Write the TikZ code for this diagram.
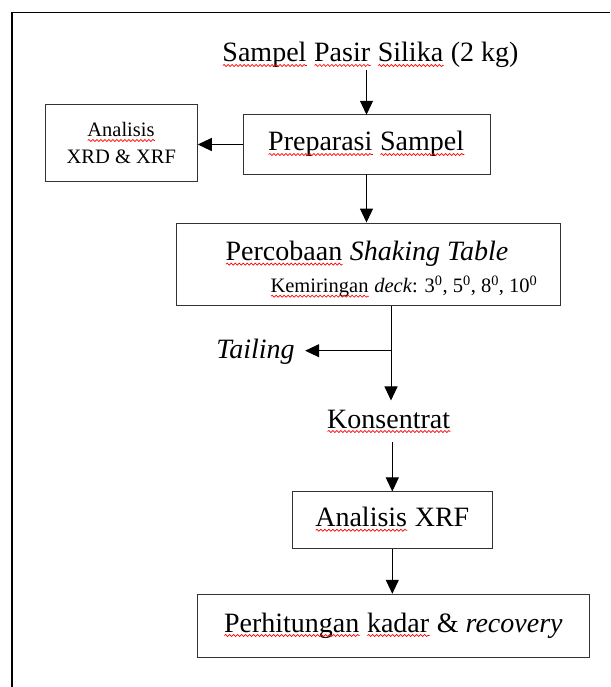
\documentclass[tikz,border=0pt]{standalone}
\usepackage{fontspec}
\setmainfont{Liberation Serif}
\usetikzlibrary{arrows.meta, decorations.pathmorphing}

\newlength{\markwd}
\newcommand{\spellmark}[1]{\settowidth{\markwd}{#1}\rlap{#1}\tikz[baseline=0pt]\draw[red, line width=0.7pt, decorate, decoration={snake, amplitude=1pt, segment length=4pt}] (0pt,-3.5pt) -- (\markwd,-3.5pt);}
\newcommand{\bigtext}{\fontsize{28pt}{32pt}\selectfont}
\newcommand{\smalltext}{\fontsize{20.5pt}{26.7pt}\selectfont}

\begin{document}
\begin{tikzpicture}[x=1pt, y=1pt, line width=1pt,
    >={Triangle[length=14pt, width=13pt]},
    box/.style={rectangle, draw=black!80, inner sep=0pt, font=\bigtext, text height=19pt, text depth=6pt},
    smallbox/.style={rectangle, draw=black!80, inner sep=0pt, align=center, font=\smalltext},
    txt/.style={inner sep=2pt, font=\bigtext}
]
\useasboundingbox (0,0) rectangle (610,-687);
\draw[line width=1.8pt] (12,-687) -- (12,-12.5) -- (610,-12.5);

% Nodes
\node[txt, anchor=base] (v0) at (370.5,-62) {\spellmark{Sampel} \spellmark{Pasir} \spellmark{Silika} (2 kg)};
\node[box, minimum width=247, minimum height=59] (v1) at (366.5,-144.5) {\spellmark{Preparasi} \spellmark{Sampel}};
\node[smallbox, minimum width=152.5, minimum height=76.7] (v2) at (121.3,-143.3) {\spellmark{Analisis}\\XRD \& XRF};
\node[box, minimum width=384, minimum height=82.5] (v3) at (368,-264.3) {};
\node[txt, anchor=base] (v3a) at (367,-260.7) {\spellmark{Percobaan} \textit{Shaking Table}};
\node[txt, anchor=base, font=\smalltext] (v3b) at (404,-292.7) {\spellmark{Kemiringan} \textit{deck}: 3\textsuperscript{0}, 5\textsuperscript{0}, 8\textsuperscript{0}, 10\textsuperscript{0}};
\coordinate (c1) at (391,-350.7);
\node[txt, anchor=base, inner xsep=10pt] (v4) at (255.5,-358) {\textit{Tailing}};
\node[txt, anchor=base, inner ysep=9pt] (v5) at (389,-428) {\spellmark{Konsentrat}};
\node[box, minimum width=200.6, minimum height=57.3] (v6) at (392.3,-520.3) {\spellmark{Analisis} XRF};
\node[box, minimum width=392.5, minimum height=63] (v7) at (393.3,-625.5) {\spellmark{Perhitungan} \spellmark{kadar} \& \textit{recovery}};

% Arrows
\draw[->] (v0.south -| v1) -- (v1);
\draw[->] (v1.west) -- (v1.west -| v2.east);
\draw[->] (v1) -- (v1 |- v3.north);
\draw (v3.south -| c1) -- (c1);
\draw[->] (c1) -- (c1 -| v4.east);
\draw[->] (c1) -- (c1 |- v5.north);
\draw[->] (v5.south -| v6) -- (v6);
\draw[->] (v6) -- (v6 |- v7.north);

\end{tikzpicture}
\end{document}
